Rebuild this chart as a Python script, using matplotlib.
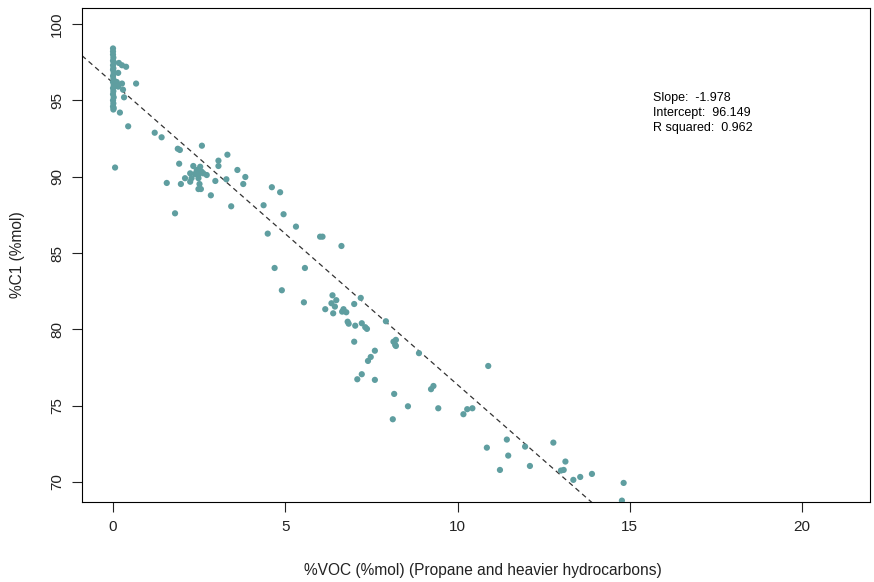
import numpy as np
import matplotlib
matplotlib.use("Agg")
import matplotlib.pyplot as plt

plt.rcParams['font.family'] = ['Liberation Sans', 'DejaVu Sans']

# samples: %VOC (propane and heavier) vs %C1
voc_x = [0.0, 0.0, 0.0, 0.01, 0.0, 0.02, 0.0, 0.01, 0.0, 0.02, 0.0, 0.01,
         0.0, 0.02, 0.0, 0.01, 0.0, 0.02, 0.0, 0.01, 0.0, 0.02, 0.01,
         0.17, 0.26, 0.38, 0.15, 0.11, 0.15, 0.26, 0.29, 0.32, 0.67, 0.2,
         0.44, 0.06,
         1.21, 1.41, 1.88, 1.94, 2.58, 3.32, 1.92, 3.06, 3.06, 3.61, 1.56,
         1.97, 3.84, 3.78, 3.29, 2.97, 2.84, 3.43, 1.8, 4.37,
         2.33, 2.53, 2.43, 2.57, 2.24, 2.38, 2.48, 2.62, 2.72, 2.09, 2.28,
         2.48, 2.24, 2.51, 2.48, 2.55,
         4.61, 4.85, 4.95, 5.31, 4.49, 6.01, 6.08, 6.63, 4.69, 5.57, 4.9,
         5.54, 6.37, 6.48, 7.19, 6.34, 6.44, 6.16, 6.39, 6.65, 6.77, 6.69,
         7.0,
         6.81, 6.84, 7.03, 7.22, 7.32, 7.37, 7.92, 7.0, 8.14, 8.21, 8.19,
         8.21, 7.6, 7.48, 7.4, 7.22, 7.09, 7.6,
         8.88, 10.89, 8.16, 9.3, 9.23, 8.56, 9.44, 8.12, 10.17, 10.28, 10.43,
         11.43, 10.85, 11.96, 12.78, 11.47, 11.23, 12.1, 13.13, 13.0, 13.08,
         13.36, 13.56, 13.9, 14.82, 14.77]
c1_y = [98.4, 98.2, 98.0, 97.8, 97.6, 97.5, 97.3, 97.1, 97.0, 96.8, 96.6, 96.4,
        96.2, 96.0, 95.8, 95.6, 95.4, 95.2, 95.0, 94.8, 94.6, 94.5, 94.4,
        97.45, 97.3, 97.2, 96.8, 96.2, 95.9, 96.1, 95.7, 95.2, 96.1, 94.2,
        93.3, 90.6,
        92.88, 92.58, 91.83, 91.75, 92.03, 91.44, 90.85, 91.05, 90.7, 90.44,
        89.59, 89.52, 89.98, 89.52, 89.83, 89.72, 88.78, 88.06, 87.6, 88.13,
        90.7, 90.65, 90.44, 90.33, 90.22, 90.18, 90.11, 90.22, 90.11, 89.9,
        89.9, 89.9, 89.67, 89.52, 89.19, 89.19,
        89.31, 88.98, 87.54, 86.73, 86.27, 86.07, 86.07, 85.46, 84.02, 84.02,
        82.56, 81.77, 82.23, 81.91, 82.06, 81.71, 81.49, 81.32, 81.05, 81.16,
        81.12, 81.32, 81.66,
        80.5, 80.37, 80.24, 80.4, 80.14, 80.03, 80.53, 79.19, 79.19, 79.31,
        78.98, 78.91, 78.6, 78.19, 77.93, 77.06, 76.73, 76.69,
        78.44, 77.6, 75.77, 76.29, 76.08, 74.96, 74.83, 74.11, 74.44, 74.77,
        74.83,
        72.78, 72.25, 72.32, 72.58, 71.73, 70.79, 71.05, 71.34, 70.75, 70.79,
        70.14, 70.33, 70.53, 69.94, 68.78]

slope = -1.978
intercept = 96.149
r_squared = 0.962

fig = plt.figure(figsize=(8.74, 5.82), dpi=100)
ax = fig.add_axes([82 / 874, 80 / 582, 788 / 874, 494 / 582])

ax.scatter(voc_x, c1_y, s=20, color='#5F9EA0', edgecolors='none', zorder=3)

xlim = (-0.9, 21.97)
ax.set_xlim(*xlim)
ax.set_ylim(68.69, 101.05)
xx = np.array(xlim)
ax.plot(xx, intercept + slope * xx, color='#333333', linestyle=(0, (4, 3)),
        linewidth=0.9, zorder=2)

ax.text(15.67, 95.15, "Slope:  %.3f" % slope, fontsize=9, va='center')
ax.text(15.67, 94.17, "Intercept:  %.3f" % intercept, fontsize=9, va='center')
ax.text(15.67, 93.19, "R squared:  %.3f" % r_squared, fontsize=9, va='center')

ax.set_xticks([0, 5, 10, 15, 20])
ax.set_yticks([70, 75, 80, 85, 90, 95, 100])
ax.tick_params(direction='out', length=7, width=0.8, labelsize=11, pad=6,
               colors='#222222')
for lab in ax.get_yticklabels():
    lab.set_rotation(90)
    lab.set_va('center')

for sp in ax.spines.values():
    sp.set_linewidth(0.8)

ax.set_xlabel("%VOC (%mol) (Propane and heavier hydrocarbons)", fontsize=11.2,
              color='#222222')
ax.xaxis.set_label_coords((483 - 82) / 788, -0.138)
ax.xaxis.label.set_va('center')
ax.set_ylabel("%C1 (%mol)", fontsize=11.2, labelpad=18, color='#222222')

fig.savefig("out.png", dpi=100)
